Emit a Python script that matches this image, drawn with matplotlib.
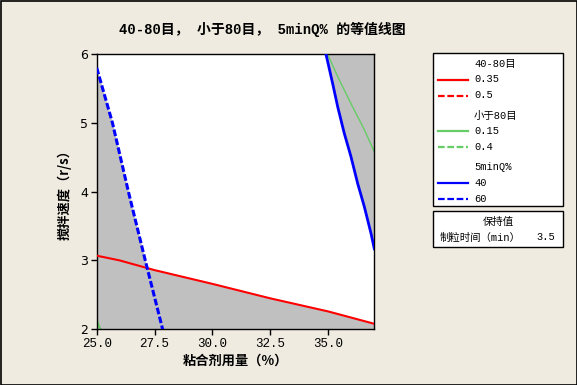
import matplotlib
matplotlib.use("Agg")
import matplotlib.pyplot as plt
from matplotlib.patches import Rectangle
from matplotlib.lines import Line2D

# ---------------- data ----------------
title = "40-80目， 小于80目， 5minQ% 的等值线图"
x_label = "粘合剂用量（%）"
y_label = "搅拌速度（r/s）"
x_ticks = [25.0, 27.5, 30.0, 32.5, 35.0]
x_tick_labels = ["25.0", "27.5", "30.0", "32.5", "35.0"]
y_ticks = [2, 3, 4, 5, 6]
x_range = [25.0, 37.0]
y_range = [2.0, 6.0]

# 40-80目 = 0.35 contour (red solid)
red_x = [25.0, 26.0, 27.5, 30.0, 32.5, 35.0, 37.0]
red_y = [3.07, 3.00, 2.86, 2.66, 2.45, 2.26, 2.08]

# 5minQ% = 60 contour (blue dashed)
q60_x = [25.0, 25.68, 26.37, 27.10, 27.85]
q60_y = [5.80, 5.00, 4.00, 3.00, 2.00]

# 5minQ% = 40 contour (blue solid)
q40_x = [34.91, 35.20, 35.42, 35.70, 35.99, 36.28, 36.57, 36.86, 37.00]
q40_y = [6.00, 5.57, 5.23, 4.85, 4.51, 4.12, 3.78, 3.39, 3.17]

# 小于80目 = 0.15 contour (green solid), two pieces
g15a_x = [34.98, 35.42, 35.99, 36.57, 37.00]
g15a_y = [6.00, 5.67, 5.28, 4.90, 4.58]
g15b_x = [25.00, 25.08, 25.17]
g15b_y = [2.14, 2.06, 2.00]

legend_groups = ["40-80目", "小于80目", "5minQ%"]
legend_levels = [["0.35", "0.5"], ["0.15", "0.4"], ["40", "60"]]
hold_title = "保持值"
hold_name = "制粒时间（min）"
hold_value = "3.5"

# ---------------- style ----------------
BG = "#EFEBE0"
GRAY = "#C0C0C0"
RED = "#FF0000"
GREEN = "#66CC66"
BLUE = "#0000FF"
MONO = ["Liberation Mono", "Noto Sans CJK SC"]
CJK = ["Noto Sans CJK SC", "DejaVu Sans"]

fig = plt.figure(figsize=(5.77, 3.85), dpi=100, facecolor=BG)
ax = fig.add_axes([0.1676, 0.1447, 0.4811, 0.715])
ax.set_facecolor("white")

# gray (outside) regions
ax.fill_betweenx(q60_y, x_range[0], q60_x, color=GRAY, lw=0, zorder=1)
ax.fill_between(red_x, y_range[0], red_y, color=GRAY, lw=0, zorder=1)
ax.fill_betweenx(q40_y, q40_x, x_range[1], color=GRAY, lw=0, zorder=1)

# contour lines
ax.plot(red_x, red_y, color=RED, lw=1.5, zorder=3)
ax.plot(q60_x, q60_y, color=BLUE, lw=2.2, dashes=(2.2, 0.8), zorder=3)
ax.plot(q40_x, q40_y, color=BLUE, lw=2.0, zorder=3)
ax.plot(g15a_x, g15a_y, color=GREEN, lw=1.0, zorder=2)
ax.plot(g15b_x, g15b_y, color=GREEN, lw=1.5, zorder=2)

ax.set_xlim(*x_range)
ax.set_ylim(*y_range)
ax.set_xticks(x_ticks)
ax.set_xticklabels(x_tick_labels, family=MONO, fontsize=9)
ax.set_yticks(y_ticks)
ax.set_yticklabels([str(v) for v in y_ticks], family="DejaVu Sans", fontsize=9)
ax.tick_params(direction="out", length=4, width=1, colors="black", pad=2)
for s in ax.spines.values():
    s.set_color("black")
    s.set_linewidth(1)

ax.set_xlabel(x_label, family=CJK, fontsize=9.5, fontweight="bold", labelpad=3)
ax.set_ylabel(y_label, family=CJK, fontsize=9.5, fontweight="bold", labelpad=6)

# overlay axes in pixel coords for title, legend and border
ov = fig.add_axes([0, 0, 1, 1], zorder=5)
ov.set_xlim(0, 577)
ov.set_ylim(385, 0)
ov.axis("off")
ov.patch.set_alpha(0)

ov.text(262, 29, title, family=MONO, fontsize=10, fontweight="bold",
        ha="center", va="center")

# legend box
ov.add_patch(Rectangle((433, 53), 130, 153, facecolor="white", edgecolor="black", lw=1))
colors = [RED, GREEN, BLUE]
y = 64.0
for grp, lev, col in zip(legend_groups, legend_levels, colors):
    ov.text(474, y, grp, family=MONO, fontsize=7.5, ha="left", va="center")
    y += 15.5
    for i, lv in enumerate(lev):
        ls = "-" if i == 0 else (0, (3, 1.2))
        ov.add_line(Line2D([438, 468], [y, y], color=col, lw=1.6, linestyle=ls))
        ov.text(474, y, lv, family=MONO, fontsize=7.5, ha="left", va="center")
        y += 16
    y += 4

# holding value box
ov.add_patch(Rectangle((433, 210.5), 130, 36, facecolor="white", edgecolor="black", lw=1))
ov.text(498, 222, hold_title, family=MONO, fontsize=7.5, ha="center", va="center")
ov.text(440, 237.5, hold_name, family=MONO, fontsize=7.5, ha="left", va="center")
ov.text(555, 237.5, hold_value, family=MONO, fontsize=7.5, ha="right", va="center")

# figure border
ov.add_patch(Rectangle((0.5, 0.5), 576, 384, facecolor="none", edgecolor="black", lw=1.2))

fig.savefig("out.png", dpi=100, facecolor=BG)
